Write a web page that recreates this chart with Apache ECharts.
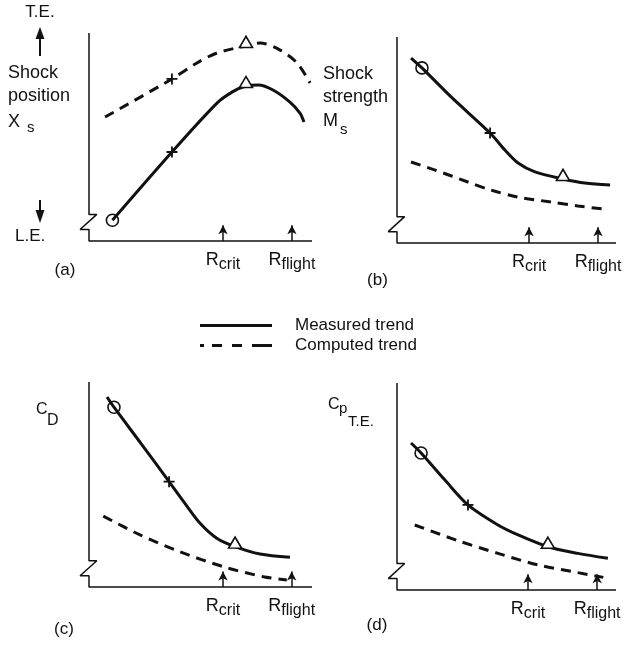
<!DOCTYPE html>
<html><head><meta charset="utf-8">
<script src="https://cdn.jsdelivr.net/npm/echarts@6/dist/echarts.min.js"></script>
<style>html,body{margin:0;padding:0;background:#fff}#c{width:637px;height:645px}</style>
</head><body><div id="c"></div>
<script>
// ---- data (arbitrary 0..100 schematic units) ----
const measuredA = [[10.5,10],[37.2,42.8],[57.4,66.3],[64.5,71.8],[70.4,74.5],[76,75],[82.5,72.6],[90.1,66.8],[94.6,61.5],[96.4,57.2]];
const computedA = [[7.2,59.6],[37.2,77.9],[48.4,85.6],[57.4,90.4],[70.4,93.8],[76.7,95.2],[85.7,91.8],[93.3,85.6],[99.1,76.0]];
const measuredB = [[6.4,89.8],[11.4,85.0],[24.7,70.9],[42.5,53.4],[49.3,45.1],[55.3,38.8],[63,34.5],[75.8,31.1],[85.8,29.1],[97.3,28.2]];
const computedB = [[6.4,39.3],[17.4,35.4],[32.4,29.6],[42.9,25.7],[55.3,22.3],[70.3,19.9],[82.6,18.0],[94.1,16.5]];
const measuredC = [[8.1,92.7],[11.2,87.7],[23.6,69.6],[35.9,51.4],[43.0,40.8],[49.8,31.1],[57.3,23.8],[65.5,19.7],[76.7,16.1],[90.1,14.5]];
const computedC = [[6.4,34.6],[22.9,25.4],[40.8,17.2],[60.2,9.9],[78.2,5.0],[88.7,3.4]];
const measuredD = [[6.4,71.0],[11.0,66.2],[21.9,53.1],[32.4,41.1],[46.1,31.4],[55.3,26.6],[68.9,20.9],[82.6,17.7],[96.3,15.3]];
const computedD = [[8.1,31.4],[27.9,23.8],[46.1,17.7],[64.4,12.1],[82.6,8.4],[94.2,6.1]];
// indices of the marked points on each curve
const measuredMarks = [{circle:0,cross:1,triangle:4},{circle:1,cross:3,triangle:7},{circle:1,cross:3,triangle:7},{circle:1,cross:3,triangle:6}];
const computedMarks = [{cross:1,triangle:4},null,null,null];
// reference Reynolds numbers on x axes
const rCrit = [60.1, 60.3, 60.1, 59.8];
const rFlight = [91.0, 91.8, 90.9, 91.4];
const panelTags = ['(a)','(b)','(c)','(d)'];
const legendNames = ['Measured trend','Computed trend'];

const measured = [measuredA, measuredB, measuredC, measuredD];
const computed = [computedA, computedB, computedC, computedD];

// ---- layout / style ----
const FONT = '"Liberation Sans", Arial, Helvetica, sans-serif';
const INK = '#111';
const X_MIN = -6, X_MAX = 100;
// plotting frames: axis origin x, top, axis length (px), height
const frames = [
  {ox:89, top:33, len:223, height:208},
  {ox:397, top:37, len:219, height:206},
  {ox:89, top:382, len:223, height:205},
  {ox:397, top:383, len:219, height:207}
];
const grids = frames.map(f => {
  const u = f.len / X_MAX;
  return {left: f.ox + X_MIN*u, top: f.top, width: f.len*(X_MAX-X_MIN)/X_MAX, height: f.height};
});
// L-shaped axes with broken-axis zigzag (decoration, in axis units)
const axisShape = [[0,100],[0,12.8],[3.5,12.8],[-4,5.5],[0,5.5],[0,0],[100,0]];
const arrowLen = 7.6;

const series = [];
const xAxes = [], yAxes = [];
grids.forEach((g, i) => {
  xAxes.push({
    type:'value', gridIndex:i, min:X_MIN, max:X_MAX,
    axisLine:{show:false},
    axisTick:{show:false}, splitLine:{show:false},
    axisLabel:{
      show:true, customValues:[rCrit[i], rFlight[i]], margin:10, color:INK,
      formatter:(v)=> v===rCrit[i] ? '{r|R}{s|crit}' : '{r|R}{s|flight}',
      rich:{
        r:{fontSize:18, fontFamily:FONT, color:INK, padding:[0,0,5,0]},
        s:{fontSize:16, fontFamily:FONT, color:INK, padding:[5,0,0,0]}
      }
    }
  });
  yAxes.push({type:'value', gridIndex:i, min:0, max:100, show:false});

  series.push({
    type:'line', xAxisIndex:i, yAxisIndex:i, data:axisShape, symbol:'none', clip:false,
    silent:true, lineStyle:{color:INK, width:1.5}, z:2, animation:false,
    markLine:{
      silent:true, symbol:['none','arrow'], symbolSize:[7,9], animation:false,
      lineStyle:{color:INK, width:1.5, type:'solid'}, label:{show:false},
      data:[
        [{coord:[rCrit[i],0]},{coord:[rCrit[i],arrowLen]}],
        [{coord:[rFlight[i],0]},{coord:[rFlight[i],arrowLen]}]
      ]
    }
  });
  series.push({
    type:'line', name:legendNames[0], xAxisIndex:i, yAxisIndex:i, data:measured[i],
    smooth:0.3, symbol:'none', clip:false, z:3,
    itemStyle:{color:INK}, lineStyle:{color:INK, width:3, type:'solid'}
  });
  series.push({
    type:'line', name:legendNames[1], xAxisIndex:i, yAxisIndex:i, data:computed[i],
    smooth:0.3, symbol:'none', clip:false, z:3,
    itemStyle:{color:INK}, lineStyle:{color:INK, width:3, type:[10,7]}
  });
  const marks = [];
  const addMarks = (arr, m) => {
    if (!m) return;
    if (m.circle !== undefined) marks.push({value:arr[m.circle], symbol:'circle', symbolSize:12,
      itemStyle:{color:'rgba(0,0,0,0)', borderColor:INK, borderWidth:1.6, opacity:1}});
    if (m.cross !== undefined) marks.push({value:arr[m.cross], symbol:'path://M5,0L5,10M0,5L10,5', symbolSize:11,
      itemStyle:{color:'none', borderColor:INK, borderWidth:1.8, opacity:1}});
    if (m.triangle !== undefined) marks.push({value:arr[m.triangle], symbol:'triangle', symbolSize:[13,11], symbolOffset:[0,-4],
      itemStyle:{color:'#fff', borderColor:INK, borderWidth:1.6, opacity:1}});
  };
  addMarks(measured[i], measuredMarks[i]);
  addMarks(computed[i], computedMarks[i]);
  series.push({type:'scatter', xAxisIndex:i, yAxisIndex:i, data:marks, z:5, silent:true, clip:false,
    itemStyle:{opacity:1}});
});

// ---- side labels (text) ----
const texts = [
  ['T.E.', 40, 12.5, 'center', 17],
  ['Shock', 8, 72.7, 'left', 18], ['position', 8, 96.4, 'left', 18],
  ['X', 8, 122, 'left', 18], ['s', 27, 128, 'left', 15],
  ['L.E.', 15, 236.5, 'left', 17], [panelTags[0], 65, 270, 'center', 17],
  ['Shock', 323, 74.4, 'left', 18], ['strength', 323, 97, 'left', 18],
  ['M', 323, 121.4, 'left', 18], ['s', 340, 130, 'left', 15], [panelTags[1], 377.5, 280, 'center', 17],
  ['C', 36, 409.5, 'left', 16], ['D', 47, 421, 'left', 16], [panelTags[2], 64, 629, 'center', 17],
  ['C', 328, 404.5, 'left', 16], ['p', 339, 409, 'left', 15], ['T.E.', 348, 422, 'left', 15], [panelTags[3], 377, 625, 'center', 17]
];
const graphic = texts.map(t => ({
  type:'text', x:t[1], y:t[2], silent:true,
  style:{text:t[0], align:t[3], verticalAlign:'middle', font:t[4]+'px '+FONT, fill:INK}
}));
// T.E. / L.E. direction arrows
graphic.push({type:'line', silent:true, shape:{x1:40,y1:56,x2:40,y2:34}, style:{stroke:INK, lineWidth:2}});
graphic.push({type:'polygon', silent:true, shape:{points:[[35.5,39],[44.5,39],[40,27]]}, style:{fill:INK}});
graphic.push({type:'line', silent:true, shape:{x1:40,y1:200,x2:40,y2:215}, style:{stroke:INK, lineWidth:2}});
graphic.push({type:'polygon', silent:true, shape:{points:[[35.5,210],[44.5,210],[40,223]]}, style:{fill:INK}});

const chart = echarts.init(document.getElementById('c'), null, {renderer:'canvas'});
chart.setOption({
  animation:false,
  backgroundColor:'#fff',
  grid:grids,
  xAxis:xAxes,
  yAxis:yAxes,
  legend:{
    data:[
      {name:legendNames[0], icon:'path://M0,0H72V3H0Z'},
      {name:legendNames[1], icon:'path://M0,0H4V3H0ZM12,0H22V3H12ZM32,0H42V3H32ZM52,0H72V3H52Z'}
    ],
    orient:'vertical', left:195, top:312,
    itemWidth:72, itemHeight:3, itemGap:3, selectedMode:false,
    itemStyle:{color:INK},
    textStyle:{fontSize:17, color:INK, fontFamily:FONT, padding:[0,0,0,18]}
  },
  series:series,
  graphic:graphic
});
</script></body></html>
